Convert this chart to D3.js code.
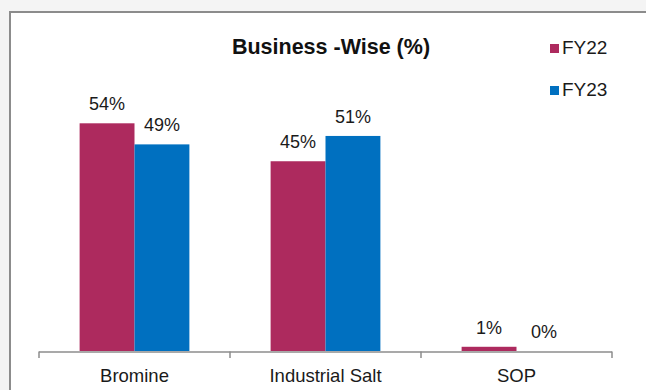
<!DOCTYPE html>
<html><head><meta charset="utf-8">
<script src="https://cdn.jsdelivr.net/npm/d3@7"></script>
<style>body{margin:0;background:#f4f4f4;}svg{display:block;}</style>
</head><body>
<svg id="c" width="646" height="390"></svg>
<script>
const categories = ["Bromine", "Industrial Salt", "SOP"];
const seriesNames = ["FY22", "FY23"];
const fy22 = [54, 45, 1];
const fy23 = [49, 51, 0];
const colors = ["#AD2A5E", "#0070C0"];
const title = "Business -Wise (%)";

const svg = d3.select("#c");
svg.append("rect").attr("x", 10).attr("y", 12).attr("width", 660).attr("height", 400)
  .attr("fill", "#fff").attr("stroke", "#8c8c8c").attr("stroke-width", 2);

const x0 = d3.scaleBand().domain(categories).range([39, 612]).paddingInner(0).paddingOuter(0);
const x1 = d3.scaleBand().domain(seriesNames).range([0, x0.bandwidth()]).paddingInner(0).paddingOuter(0.74);
const y = d3.scaleLinear().domain([0, 60]).range([351, 98]);

const data = categories.map((c, i) => ({cat: c, vals: [fy22[i], fy23[i]]}));
const font = "'Liberation Sans', Arial, sans-serif";

const g = svg.selectAll("g.cat").data(data).join("g").attr("class", "cat")
  .attr("transform", d => `translate(${x0(d.cat)},0)`);
g.selectAll("rect").data(d => d.vals.map((v, j) => ({v, s: seriesNames[j], j})))
  .join("rect")
  .attr("x", d => x1(d.s)).attr("width", x1.bandwidth())
  .attr("y", d => y(d.v)).attr("height", d => y(0) - y(d.v))
  .attr("fill", d => colors[d.j]);
g.selectAll("text").data(d => d.vals.map((v, j) => ({v, s: seriesNames[j], j})))
  .join("text")
  .attr("x", d => x1(d.s) + x1.bandwidth() / 2).attr("y", d => y(d.v) - 13)
  .attr("text-anchor", "middle").attr("font-family", font).attr("font-size", 18)
  .attr("fill", "#1a1a1a").text(d => d.v + "%");

// axis
const axisG = svg.append("g");
axisG.append("line").attr("x1", 39).attr("x2", 612).attr("y1", 352).attr("y2", 352)
  .attr("stroke", "#8c8c8c").attr("stroke-width", 1.5);
const bounds = categories.map(c => x0(c)).concat([x0(categories[categories.length - 1]) + x0.bandwidth()]);
axisG.selectAll("line.tk").data(bounds).join("line").attr("class", "tk")
  .attr("x1", d => d).attr("x2", d => d).attr("y1", 351.5).attr("y2", 358)
  .attr("stroke", "#8c8c8c").attr("stroke-width", 1.5);
axisG.selectAll("text").data(categories).join("text")
  .attr("x", d => x0(d) + x0.bandwidth() / 2).attr("y", 382)
  .attr("text-anchor", "middle").attr("font-family", font).attr("font-size", 18.5)
  .attr("fill", "#1a1a1a").text(d => d);

// title
svg.append("text").attr("x", 331).attr("y", 54).attr("text-anchor", "middle")
  .attr("font-family", font).attr("font-size", 21.5).attr("font-weight", "bold")
  .attr("fill", "#111").text(title);

// legend
const lg = svg.selectAll("g.lg").data(seriesNames).join("g").attr("class", "lg")
  .attr("transform", (d, i) => `translate(550,${54 + i * 42})`);
lg.append("rect").attr("x", 0).attr("y", -10).attr("width", 9).attr("height", 9)
  .attr("fill", (d, i) => colors[i]);
lg.append("text").attr("x", 12).attr("y", 0).attr("font-family", font).attr("font-size", 19)
  .attr("fill", "#1a1a1a").text(d => d);
</script>
</body></html>
